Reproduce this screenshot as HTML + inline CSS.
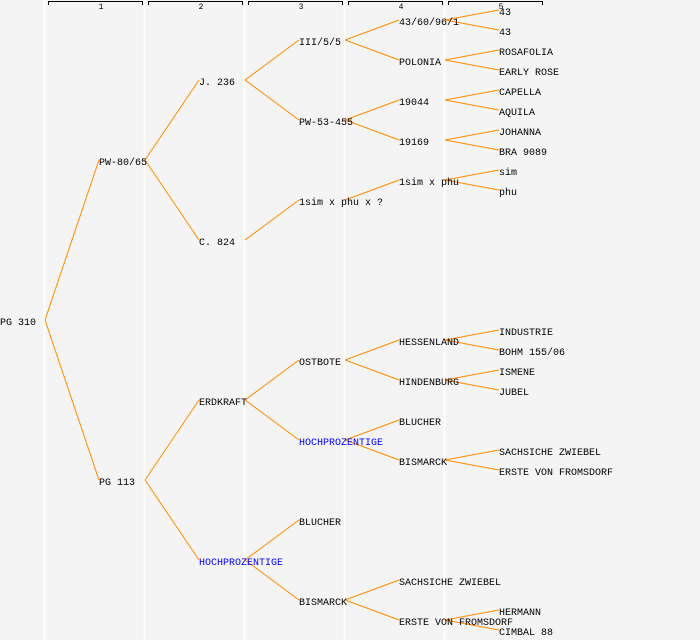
<!DOCTYPE html>
<html><head><meta charset="utf-8"><style>
html,body{margin:0;padding:0;background:#f4f4f4;}
svg{display:block;}
text{font-family:"Liberation Mono","DejaVu Sans Mono",monospace;font-size:10px;fill:#000;}
.b{fill:#0000ff;}
line,polyline{stroke:#ff8c00;stroke-width:1;fill:none;}
.g{stroke:#ffffff;stroke-width:1.5;}
.h{stroke:#000;stroke-width:1;fill:none;}
</style></head><body>
<svg width="700" height="640" xmlns="http://www.w3.org/2000/svg">
<rect width="700" height="640" fill="#f4f4f4"/>
<line class="g" x1="44.5" y1="0" x2="44.5" y2="640"/>
<line class="g" x1="144.5" y1="0" x2="144.5" y2="640"/>
<line class="g" x1="244.5" y1="0" x2="244.5" y2="640"/>
<line class="g" x1="344.5" y1="0" x2="344.5" y2="640"/>
<line class="g" x1="444.5" y1="0" x2="444.5" y2="640"/>
<polyline class="h" points="48.5,5 48.5,1.5 142.5,1.5 142.5,5"/>
<polyline class="h" points="148.5,5 148.5,1.5 242.5,1.5 242.5,5"/>
<polyline class="h" points="248.5,5 248.5,1.5 342.5,1.5 342.5,5"/>
<polyline class="h" points="348.5,5 348.5,1.5 442.5,1.5 442.5,5"/>
<polyline class="h" points="448.5,5 448.5,1.5 542.5,1.5 542.5,5"/>
<text x="101" y="9" text-anchor="middle" style="font-size:8px">1</text>
<text x="201" y="9" text-anchor="middle" style="font-size:8px">2</text>
<text x="301" y="9" text-anchor="middle" style="font-size:8px">3</text>
<text x="401" y="9" text-anchor="middle" style="font-size:8px">4</text>
<text x="501" y="9" text-anchor="middle" style="font-size:8px">5</text>
<g id="lines">
<line x1="45" y1="320" x2="99" y2="160"/><line x1="45" y1="320" x2="99" y2="480"/>
<line x1="145" y1="160" x2="199" y2="80"/><line x1="145" y1="160" x2="199" y2="240"/>
<line x1="145" y1="480" x2="199" y2="400"/><line x1="145" y1="480" x2="199" y2="560"/>
<line x1="245" y1="80" x2="299" y2="40"/><line x1="245" y1="80" x2="299" y2="120"/>
<line x1="245" y1="240" x2="299" y2="200"/>
<line x1="245" y1="400" x2="299" y2="360"/><line x1="245" y1="400" x2="299" y2="440"/>
<line x1="245" y1="560" x2="299" y2="520"/><line x1="245" y1="560" x2="299" y2="600"/>
<line x1="345" y1="40" x2="399" y2="20"/><line x1="345" y1="40" x2="399" y2="60"/>
<line x1="345" y1="120" x2="399" y2="100"/><line x1="345" y1="120" x2="399" y2="140"/>
<line x1="345" y1="200" x2="399" y2="180"/>
<line x1="345" y1="360" x2="399" y2="340"/><line x1="345" y1="360" x2="399" y2="380"/>
<line x1="345" y1="440" x2="399" y2="420"/><line x1="345" y1="440" x2="399" y2="460"/>
<line x1="345" y1="600" x2="399" y2="580"/><line x1="345" y1="600" x2="399" y2="620"/>
<line x1="445" y1="20" x2="499" y2="10"/><line x1="445" y1="20" x2="499" y2="30"/>
<line x1="445" y1="60" x2="499" y2="50"/><line x1="445" y1="60" x2="499" y2="70"/>
<line x1="445" y1="100" x2="499" y2="90"/><line x1="445" y1="100" x2="499" y2="110"/>
<line x1="445" y1="140" x2="499" y2="130"/><line x1="445" y1="140" x2="499" y2="150"/>
<line x1="445" y1="180" x2="499" y2="170"/><line x1="445" y1="180" x2="499" y2="190"/>
<line x1="445" y1="340" x2="499" y2="330"/><line x1="445" y1="340" x2="499" y2="350"/>
<line x1="445" y1="380" x2="499" y2="370"/><line x1="445" y1="380" x2="499" y2="390"/>
<line x1="445" y1="460" x2="499" y2="450"/><line x1="445" y1="460" x2="499" y2="470"/>
<line x1="445" y1="620" x2="499" y2="610"/><line x1="445" y1="620" x2="499" y2="630"/>
</g>
<g transform="translate(0,-1)">
<text x="0" y="326">PG 310</text>
<text x="99" y="166">PW-80/65</text>
<text x="99" y="486">PG 113</text>
<text x="199" y="86">J. 236</text>
<text x="199" y="246">C. 824</text>
<text x="199" y="406">ERDKRAFT</text>
<text x="199" y="566" class="b">HOCHPROZENTIGE</text>
<text x="299" y="46">III/5/5</text>
<text x="299" y="126">PW-53-455</text>
<text x="299" y="206">1sim x phu x ?</text>
<text x="299" y="366">OSTBOTE</text>
<text x="299" y="446" class="b">HOCHPROZENTIGE</text>
<text x="299" y="526">BLUCHER</text>
<text x="299" y="606">BISMARCK</text>
<text x="399" y="26">43/60/96/1</text>
<text x="399" y="66">POLONIA</text>
<text x="399" y="106">19044</text>
<text x="399" y="146">19169</text>
<text x="399" y="186">1sim x phu</text>
<text x="399" y="346">HESSENLAND</text>
<text x="399" y="386">HINDENBURG</text>
<text x="399" y="426">BLUCHER</text>
<text x="399" y="466">BISMARCK</text>
<text x="399" y="586">SACHSICHE ZWIEBEL</text>
<text x="399" y="626">ERSTE VON FROMSDORF</text>
<text x="499" y="16">43</text>
<text x="499" y="36">43</text>
<text x="499" y="56">ROSAFOLIA</text>
<text x="499" y="76">EARLY ROSE</text>
<text x="499" y="96">CAPELLA</text>
<text x="499" y="116">AQUILA</text>
<text x="499" y="136">JOHANNA</text>
<text x="499" y="156">BRA 9089</text>
<text x="499" y="176">sim</text>
<text x="499" y="196">phu</text>
<text x="499" y="336">INDUSTRIE</text>
<text x="499" y="356">BOHM 155/06</text>
<text x="499" y="376">ISMENE</text>
<text x="499" y="396">JUBEL</text>
<text x="499" y="456">SACHSICHE ZWIEBEL</text>
<text x="499" y="476">ERSTE VON FROMSDORF</text>
<text x="499" y="616">HERMANN</text>
<text x="499" y="636">CIMBAL 88</text>
</g>
</svg>
</body></html>
